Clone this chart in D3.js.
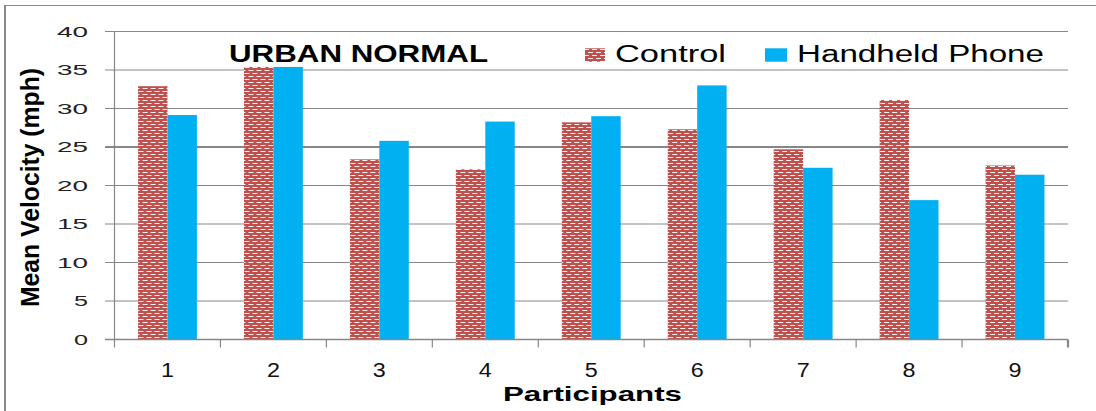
<!DOCTYPE html>
<html>
<head>
<meta charset="utf-8">
<script src="https://cdn.jsdelivr.net/npm/d3@7"></script>
<style>
  html, body { margin: 0; padding: 0; background: #fff; }
  svg { display: block; }
  text { font-family: "Liberation Sans", Arial, sans-serif; }
</style>
</head>
<body>
<svg id="chart" width="1096" height="411"></svg>
<script>
// ---- data ----
const categories = ["1", "2", "3", "4", "5", "6", "7", "8", "9"];
const seriesNames = ["Control", "Handheld Phone"];
const controlValues = [32.9, 35.4, 23.4, 22.1, 28.2, 27.3, 24.7, 31.1, 22.6];
const phoneValues   = [29.15, 35.4, 25.8, 28.3, 29.0, 33.0, 22.3, 18.1, 21.4];
const yTicks = [0, 5, 10, 15, 20, 25, 30, 35, 40];
const chartTitle = "URBAN NORMAL";
const yTitle = "Mean Velocity (mph)";
const xTitle = "Participants";

// ---- layout ----
const svg = d3.select("#chart");
const plot = { left: 114.5, right: 1068, top: 31.5, bottom: 339.5 };
const gridColor = "#878787";

const defs = svg.append("defs");
const pat = defs.append("pattern")
  .attr("id", "ctrlPat").attr("patternUnits", "userSpaceOnUse")
  .attr("width", 8).attr("height", 6);
pat.append("rect").attr("width", 8).attr("height", 6).attr("fill", "#C0504D");
pat.append("rect").attr("x", 0).attr("y", 1).attr("width", 5).attr("height", 1).attr("fill", "#fff").attr("opacity", 0.92);
pat.append("rect").attr("x", 4).attr("y", 4).attr("width", 4).attr("height", 1).attr("fill", "#fff").attr("opacity", 0.92);
pat.append("rect").attr("x", 0).attr("y", 4).attr("width", 1).attr("height", 1).attr("fill", "#fff").attr("opacity", 0.92);

const fills = { "Control": "url(#ctrlPat)", "Handheld Phone": "#00B0F0" };

// outer frame
svg.append("line").attr("x1", 5).attr("x2", 5).attr("y1", 5).attr("y2", 411)
  .attr("stroke", "#8a8a8a").attr("stroke-width", 2);
svg.append("line").attr("x1", 4).attr("x2", 1096).attr("y1", 5.5).attr("y2", 5.5)
  .attr("stroke", "#8a8a8a").attr("stroke-width", 1);

// scales
const x = d3.scaleBand().domain(categories).range([plot.left, plot.right]).padding(0);
const xs = d3.scaleBand().domain(seriesNames).range([0, x.bandwidth()]).paddingInner(0).paddingOuter(0.8);
const y = d3.scaleLinear().domain([0, 40]).range([plot.bottom, plot.top]);

// gridlines
svg.append("g").selectAll("line").data(yTicks).join("line")
  .attr("x1", plot.left - 9.5).attr("x2", plot.right)
  .attr("y1", d => y(d)).attr("y2", d => y(d))
  .attr("stroke", gridColor)
  .attr("stroke-width", d => d === 25 ? 2 : 1.2);

// y tick labels (via axis)
const yAxis = svg.append("g").attr("transform", `translate(${plot.left},0)`)
  .call(d3.axisLeft(y).tickValues(yTicks).tickSize(0).tickPadding(26.5));
yAxis.select(".domain").remove();
yAxis.selectAll("text")
  .attr("font-size", 14.5).attr("fill", "#222")
  .attr("font-family", "'Liberation Sans', Arial, sans-serif")
  .attr("textLength", d => String(d).length === 1 ? 14 : 31)
  .attr("lengthAdjust", "spacingAndGlyphs");

// bars
const data = categories.map((c, i) => ({ cat: c, values: [
  { series: "Control", value: controlValues[i] },
  { series: "Handheld Phone", value: phoneValues[i] }
]}));
svg.append("g").selectAll("g").data(data).join("g")
  .attr("transform", d => `translate(${x(d.cat)},0)`)
  .selectAll("rect").data(d => d.values).join("rect")
  .attr("x", d => xs(d.series))
  .attr("width", xs.bandwidth())
  .attr("y", d => y(d.value))
  .attr("height", d => y(0) - y(d.value))
  .attr("fill", d => fills[d.series]);

// axes lines
svg.append("line").attr("x1", plot.left).attr("x2", plot.left)
  .attr("y1", plot.top).attr("y2", plot.bottom + 8)
  .attr("stroke", gridColor).attr("stroke-width", 1.2);
svg.append("line").attr("x1", plot.left - 9.5).attr("x2", plot.right)
  .attr("y1", plot.bottom).attr("y2", plot.bottom)
  .attr("stroke", gridColor).attr("stroke-width", 1.5);
const boundaries = categories.slice(1).map(c => x(c)).concat([x.range()[1]]);
svg.append("g").selectAll("line").data(boundaries).join("line")
  .attr("x1", d => d).attr("x2", d => d)
  .attr("y1", plot.bottom).attr("y2", plot.bottom + 8)
  .attr("stroke", gridColor)
  .attr("stroke-width", (d, i) => i === boundaries.length - 1 ? 2.2 : 1.2);

// x tick labels
const xAxis = svg.append("g").attr("transform", `translate(0,${plot.bottom})`)
  .call(d3.axisBottom(x).tickSize(0).tickPadding(22));
xAxis.select(".domain").remove();
xAxis.selectAll("text")
  .attr("font-size", 19.5).attr("fill", "#111")
  .attr("font-family", "'Liberation Sans', Arial, sans-serif")
  .attr("dy", null).attr("y", 37)
  .attr("textLength", 13).attr("lengthAdjust", "spacingAndGlyphs");

// chart title
svg.append("text").text(chartTitle)
  .attr("x", 229).attr("y", 61.7)
  .attr("font-size", 23).attr("font-weight", "bold").attr("fill", "#000")
  .attr("textLength", 259).attr("lengthAdjust", "spacingAndGlyphs");

// legend
const legend = [
  { name: "Control", sx: 585, sw: 20, tx: 615, tl: 111 },
  { name: "Handheld Phone", sx: 765, sw: 22, tx: 797, tl: 247 }
];
const lg = svg.append("g").selectAll("g").data(legend).join("g");
lg.append("rect").attr("x", d => d.sx).attr("y", 48.3).attr("width", d => d.sw).attr("height", 13.4)
  .attr("fill", d => fills[d.name]);
lg.append("text").text(d => d.name)
  .attr("x", d => d.tx).attr("y", 61.7)
  .attr("font-size", 23).attr("fill", "#000")
  .attr("textLength", d => d.tl).attr("lengthAdjust", "spacingAndGlyphs");

// axis titles
svg.append("text").text(xTitle)
  .attr("x", 592.5).attr("y", 400.5).attr("text-anchor", "middle")
  .attr("font-size", 21).attr("font-weight", "bold").attr("fill", "#000")
  .attr("textLength", 179).attr("lengthAdjust", "spacingAndGlyphs");

svg.append("text").text(yTitle)
  .attr("transform", "translate(39.3,187.5) scale(1.44,1) rotate(-90)")
  .attr("text-anchor", "middle")
  .attr("font-size", 18).attr("font-weight", "bold").attr("fill", "#000")
  .attr("textLength", 239).attr("lengthAdjust", "spacingAndGlyphs");
</script>
</body>
</html>
